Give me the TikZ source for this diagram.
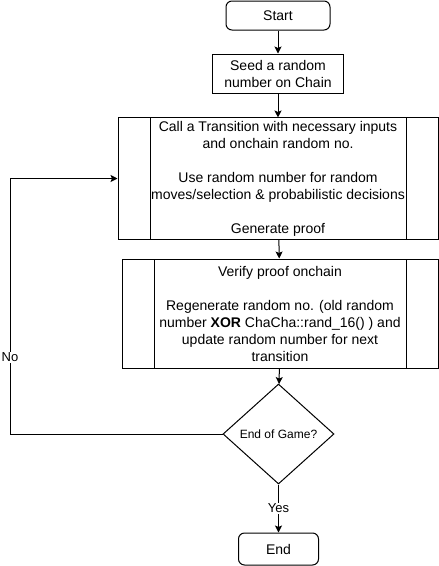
\documentclass[tikz,border=0pt]{standalone}
\usepackage{fontspec}
\setmainfont{Liberation Sans}
\usetikzlibrary{arrows.meta,shapes.geometric}
\usetikzlibrary{positioning}
\tikzset{
    terminal/.style={
           rectangle,
           rounded corners=6pt,
           draw=black, line width=1pt,
           minimum width=104pt,
           minimum height=29pt,
           inner sep=3pt,
           text centered,
           font=\fontsize{14}{17}\selectfont,
           },
    process/.style={
           rectangle,
           draw=black, line width=1pt,
           inner sep=3pt,
           align=center,
           font=\fontsize{14}{17}\selectfont,
           },
    subproc/.style={
           process,
           path picture={
             \draw[line width=1pt] ([xshift=32pt]path picture bounding box.north west)
                 -- ([xshift=32pt]path picture bounding box.south west);
             \draw[line width=1pt] ([xshift=-32pt]path picture bounding box.north east)
                 -- ([xshift=-32pt]path picture bounding box.south east);
           },
           },
    decision/.style={
           diamond,
           draw=black, line width=1pt,
           minimum width=111pt,
           minimum height=100pt,
           inner sep=0pt,
           font=\fontsize{12}{14}\selectfont,
           },
    flowlabel/.style={
           fill=white,
           inner sep=1pt,
           font=\fontsize{13}{15}\selectfont,
           },
}

\begin{document}
\begin{tikzpicture}[x=1pt, y=1pt, line width=1pt, >={Stealth[length=7pt,width=7pt,inset=1.5pt]}]

 \useasboundingbox (0,0) rectangle (439,-566);

 % Start of the flow
 \node[terminal] (START) at (278,-15.5) {Start};

 % Seeding step
 \node[process,
  below of=START,      % under Start
  node distance=58pt,
  minimum width=131pt, minimum height=39pt] (SEED)
	{Seed a random\\number on Chain};

 % Transition call (subprocess box)
 \node[subproc,
  below of=SEED,
  node distance=105pt,
  minimum width=320pt, minimum height=119pt] (TRN)
	{Call a Transition with necessary inputs\\
	 and onchain random no.\\[17pt]
	 Use random number for random\\
	 moves/selection \& probabilistic decisions\\[17pt]
	 Generate proof};

 % Verification (subprocess box)
 \node[subproc,
  below of=TRN,
  node distance=135pt, xshift=2pt,
  minimum width=316pt, minimum height=109pt] (VER)
	{Verify proof onchain\\[17pt]
	 Regenerate random no. (old random\\
	 number \textbf{XOR} ChaCha::rand\_16() ) and\\
	 update random number for next\\
	 transition};

 % Decision
 \node[decision,
  below of=VER,
  node distance=120.5pt, xshift=-1.5pt] (DEC)
	{End of Game?};

 % End of the flow
 \node[terminal,
  below of=DEC,
  node distance=115pt,
  minimum width=80pt, minimum height=32pt] (END)
	{End};

 % turning point of the loop back
 \coordinate (NOX) at (10,0);

 \path[->]
	(START) edge (SEED)
	(SEED)  edge (TRN)
	(TRN)   edge (VER)
	(VER)   edge (DEC)
	(DEC)   edge node[flowlabel]{Yes} (END);

 \draw[->] (DEC.west) -- (DEC.west -| NOX)
	-- node[flowlabel, pos=0.3]{No} (TRN.west -| NOX) -- (TRN.west);
\end{tikzpicture}
\end{document}
